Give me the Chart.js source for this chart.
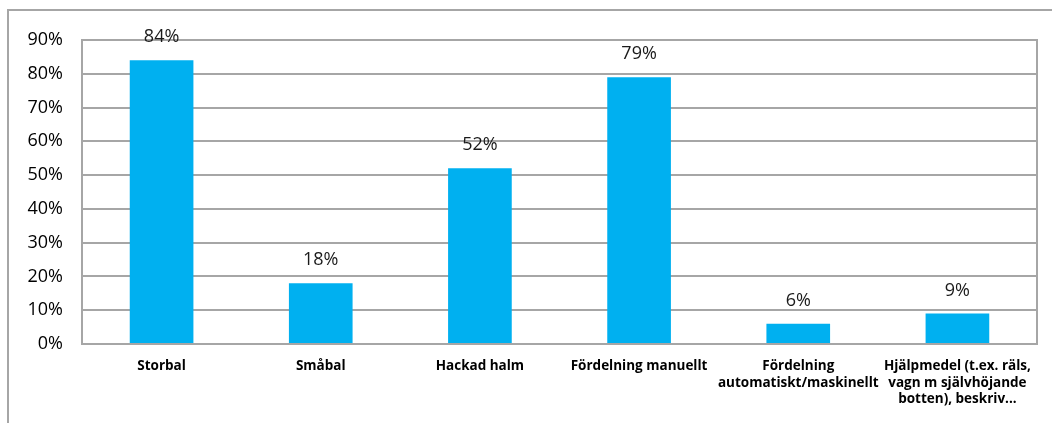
<!DOCTYPE html>
<html>
<head>
<meta charset="utf-8">
<script src="https://cdn.jsdelivr.net/npm/chart.js@4"></script>
<style>
  html, body { margin: 0; padding: 0; background: #fff; }
  #wrap { position: relative; width: 1052px; height: 423px; overflow: hidden; }
  #frame { position: absolute; left: 7px; top: 9px; width: 1100px; height: 500px;
           border-left: 2px solid #a6a6a6; border-top: 2px solid #a6a6a6; }
  canvas { position: absolute; left: 0; top: 0; }
</style>
</head>
<body>
<div id="wrap">
  <div id="frame"></div>
  <canvas id="chart" width="1052" height="423"></canvas>
</div>
<script>
const categories = [
  ["Storbal"],
  ["Småbal"],
  ["Hackad halm"],
  ["Fördelning manuellt"],
  ["Fördelning", "automatiskt/maskinellt"],
  ["Hjälpmedel (t.ex. räls,", "vagn m självhöjande", "botten), beskriv..."]
];
const values = [84, 18, 52, 79, 6, 9];
const yTicks = [0, 10, 20, 30, 40, 50, 60, 70, 80, 90];

const gridColor = "#a6a6a6";

// value labels above each bar
const valueLabels = {
  id: "valueLabels",
  afterDatasetsDraw(chart) {
    const ctx = chart.ctx;
    const meta = chart.getDatasetMeta(0);
    ctx.save();
    ctx.font = "18px 'Open Sans'";
    ctx.fillStyle = "#1a1a1a";
    ctx.textAlign = "center";
    ctx.textBaseline = "middle";
    meta.data.forEach((bar, i) => {
      ctx.fillText(values[i] + "%", bar.x, bar.y - 23);
    });
    ctx.restore();
  }
};

// right edge of plot area
const rightBorder = {
  id: "rightBorder",
  afterDraw(chart) {
    const a = chart.chartArea;
    const ctx = chart.ctx;
    ctx.save();
    ctx.strokeStyle = gridColor;
    ctx.lineWidth = 2;
    ctx.beginPath();
    ctx.moveTo(a.right, a.top - 1);
    ctx.lineTo(a.right, a.bottom + 1);
    ctx.stroke();
    ctx.restore();
  }
};

new Chart(document.getElementById("chart"), {
  type: "bar",
  data: {
    labels: categories,
    datasets: [{
      data: values,
      backgroundColor: "#00b0f0",
      categoryPercentage: 0.8,
      barPercentage: 0.5
    }]
  },
  options: {
    responsive: false,
    animation: false,
    layout: { padding: { left: 0, top: 40, right: 15, bottom: 0 } },
    plugins: { legend: { display: false }, tooltip: { enabled: false } },
    scales: {
      x: {
        grid: { display: false },
        border: { display: true, color: gridColor, width: 2 },
        ticks: {
          color: "#000",
          font: { family: "'Open Sans'", size: 13.5, weight: "bold", lineHeight: 1.22 },
          maxRotation: 0,
          autoSkip: false,
          padding: 6
        },
        afterFit(scale) { scale.height = 79; }
      },
      y: {
        min: 0,
        max: 90,
        afterBuildTicks(scale) { scale.ticks = yTicks.map(v => ({ value: v })); },
        grid: { color: gridColor, lineWidth: 2, drawTicks: false },
        border: { display: true, color: gridColor, width: 2 },
        ticks: {
          color: "#000",
          font: { family: "'Open Sans'", size: 18 },
          padding: 19,
          callback: v => v + "%"
        },
        afterFit(scale) { scale.width = 82; }
      }
    }
  },
  plugins: [valueLabels, rightBorder]
});
</script>
</body>
</html>
